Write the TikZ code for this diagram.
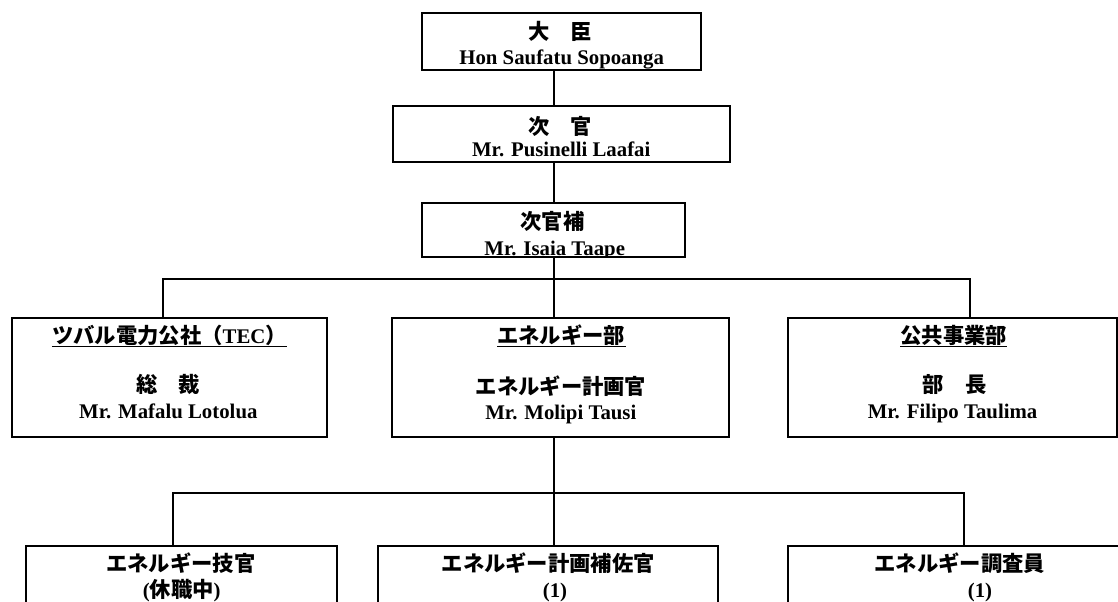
\documentclass[tikz,border=0pt]{standalone}
\usepackage{fontspec}
\setmainfont{Liberation Serif}
\newfontfamily\jpfont{Noto Sans CJK JP}[Scale=1.025]
\newcommand\jpt[1]{{\jpfont\bfseries #1}}
\usetikzlibrary{fit}
\begin{document}
\begin{tikzpicture}[x=0.75pt,y=-0.75pt,
  box/.style={draw, line width=1.35pt, inner sep=0pt},
  lab/.style={inner sep=0pt, anchor=base, font=\fontsize{15.6pt}{18pt}\selectfont\bfseries},
  conn/.style={line width=1.25pt},
  uline/.style={line width=1.1pt}]
\clip (0,0) rectangle (1118,601);
\coordinate (v) at (554,0);
% top chain
\node[box, fit={(421.7,13.3) (701,70)}] (b1) {};
\node[lab] (b1t) at (560,39.7) {\jpt{大　臣}};
\node[lab] (b1n) at (561.7,64) {Hon Saufatu Sopoanga};
\node[box, fit={(392.7,106) (730,161.7)}] (b2) {};
\node[lab] (b2t) at (560,134) {\jpt{次　官}};
\node[lab] (b2n) at (561.2,156) {Mr. Pusinelli Laafai};
\node[box, fit={(421.7,202.7) (685,256.7)}] (b3) {};
\node[lab] (b3t) at (552.5,229.7) {\jpt{次官補}};
\begin{scope}
  \clip (421.7,202.7) rectangle (685,256.7);
  \node[lab] (b3n) at (554.7,255) {Mr. Isaia Taape};
\end{scope}
% middle row
\node[box, fit={(11.7,317.7) (326.7,437.3)}] (tec) {};
\node[lab] (tech) at (169.5,343) {\jpt{ツバル電力公社（}TEC\jpt{）}};
\draw[uline] ([yshift=-2.8pt]tech.base west) -- ([yshift=-2.8pt]tech.base east);
\node[lab] (tect) at (168,392) {\jpt{総　裁}};
\node[lab] (tecn) at (168.3,418.5) {Mr. Mafalu Lotolua};
\node[box, fit={(392.3,317.7) (729.3,436.7)}] (mid) {};
\node[lab] (midh) at (561.3,343) {\jpt{エネルギー部}};
\draw[uline] ([yshift=-2.8pt]midh.base west) -- ([yshift=-2.8pt]midh.base east);
\node[lab] (midt) at (561,394) {\jpt{エネルギー計画官}};
\node[lab] (midn) at (560.8,419) {Mr. Molipi Tausi};
\node[box, fit={(788.3,317.7) (1117,436.7)}] (pub) {};
\node[lab] (pubh) at (953.8,343) {\jpt{公共事業部}};
\draw[uline] ([yshift=-2.8pt]pubh.base west) -- ([yshift=-2.8pt]pubh.base east);
\node[lab] (pubt) at (954.7,392.5) {\jpt{部　長}};
\node[lab] (pubn) at (952.5,418.5) {Mr. Filipo Taulima};
% bottom row
\node[box, fit={(26,546) (337.3,640)}] (bl) {};
\node[lab] (blt) at (180.8,571.5) {\jpt{エネルギー技官}};
\node[lab] (bln) at (181.7,597.5) {(\jpt{休職中})};
\node[box, fit={(377.7,546) (718.3,640)}] (bm) {};
\node[lab] (bmt) at (548.3,571.5) {\jpt{エネルギー計画補佐官}};
\node[lab] (bmn) at (555,597.5) {(1)};
\node[box, fit={(788.3,546) (1131,640)}] (br) {};
\node[lab] (brt) at (959.7,571.5) {\jpt{エネルギー調査員}};
\node[lab] (brn) at (980,597.5) {(1)};
% connectors
\coordinate (bus1L) at (163.3,279.3);
\coordinate (bus1R) at (970,279.3);
\coordinate (bus2L) at (172.7,493.3);
\coordinate (bus2R) at (964.3,493.3);
\draw[conn] (b1.south -| v) -- (b2.north -| v);
\draw[conn] (b2.south -| v) -- (b3.north -| v);
\draw[conn] (b3.south -| v) -- (mid.north -| v);
\draw[conn] (tec.north -| bus1L) -- (bus1L) -- (bus1R) -- (pub.north -| bus1R);
\draw[conn] (mid.south -| v) -- (bm.north -| v);
\draw[conn] (bl.north -| bus2L) -- (bus2L) -- (bus2R) -- (br.north -| bus2R);
\end{tikzpicture}
\end{document}
